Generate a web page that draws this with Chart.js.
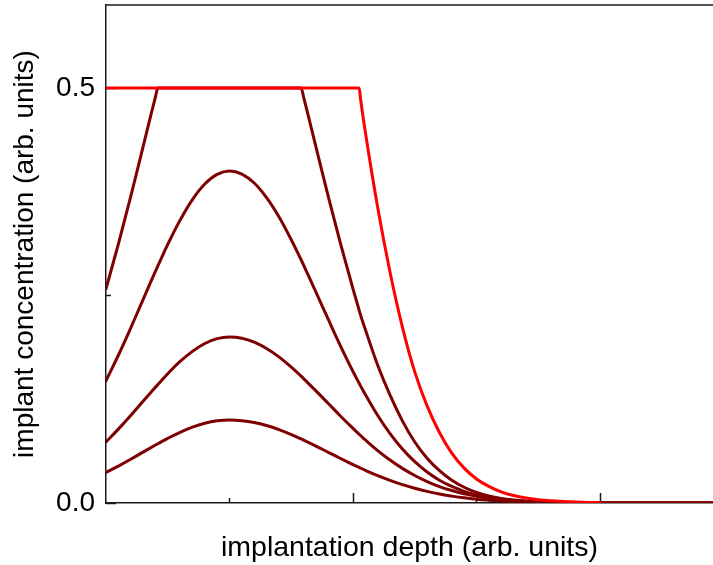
<!DOCTYPE html>
<html>
<head>
<meta charset="utf-8">
<script src="https://cdn.jsdelivr.net/npm/chart.js@4/dist/chart.umd.min.js"></script>
<style>
html,body{margin:0;padding:0;background:#fff;}
canvas{display:block;}
</style>
</head>
<body>
<canvas id="c" width="713" height="565"></canvas>
<script>
// implantation depth (arb. units)
const depth = [0,0.1,0.2,0.3,0.4,0.42,0.5,0.6,0.7,0.8,0.9,1.0,1.1,1.2,1.3,1.4,1.5,1.58,1.6,1.7,1.8,1.9,2.0,2.05,2.06,2.1,2.2,2.3,2.4,2.5,2.6,2.7,2.8,2.9,3.0,3.1,3.2,3.3,3.4,3.5,3.6,3.7,3.8,3.9,4.0,4.5,4.92];

// saturated (clipped) profile, highest dose
const profileSaturated = [0.5,0.5,0.5,0.5,0.5,0.5,0.5,0.5,0.5,0.5,0.5,0.5,0.5,0.5,0.5,0.5,0.5,0.5,0.5,0.5,0.5,0.5,0.5,0.5,0.488,0.447,0.356,0.278,0.212,0.158,0.117,0.085,0.060,0.042,0.029,0.020,0.0135,0.009,0.006,0.004,0.0026,0.0017,0.0011,0.0007,0.0004,null,null];
// partly clipped profile
const profileHigh = [0.258,0.312,0.369,0.429,0.489,0.5,0.5,0.5,0.5,0.5,0.5,0.5,0.5,0.5,0.5,0.5,0.5,0.5,0.489,0.429,0.369,0.312,0.258,0.232,0.227,0.209,0.166,0.130,0.099,0.0735,0.054,0.039,0.0275,0.019,0.0128,0.0085,0.0055,0.0035,0.0022,0.0013,0.0008,0.0005,0.0003,0.0002,0.0001,0,0];
const profileMid = [0.1472,0.1780,0.2108,0.2451,0.2791,0.2856,0.3115,0.3408,0.3656,0.3843,0.3960,0.4000,0.3963,0.3855,0.3679,0.3449,0.3172,0.2929,0.2867,0.2541,0.2211,0.1888,0.1584,0.1442,0.1414,0.1306,0.1054,0.0836,0.0651,0.0498,0.0374,0.0275,0.0199,0.0141,0.0098,0.0067,0.0045,0.0030,0.0019,0.0012,0.0008,0.0005,0.0003,0.0002,0.0001,0,0];
const profileLow = [0.0736,0.0890,0.1054,0.1226,0.1395,0.1428,0.1558,0.1705,0.1827,0.1922,0.1980,0.2000,0.1984,0.1937,0.1861,0.1760,0.1637,0.1528,0.1499,0.1351,0.1199,0.1046,0.0899,0.0828,0.0814,0.0760,0.0632,0.0517,0.0417,0.0331,0.0258,0.0198,0.0150,0.0111,0.0082,0.0059,0.0042,0.0029,0.0020,0.0013,0.0009,0.0006,0.0004,0.0002,0.0001,0,0];
const profileLowest = [0.0368,0.0445,0.0527,0.0613,0.0698,0.0714,0.0779,0.0852,0.0914,0.0961,0.0990,0.1000,0.0992,0.0970,0.0933,0.0884,0.0825,0.0772,0.0758,0.0686,0.0611,0.0536,0.0463,0.0428,0.0421,0.0394,0.0330,0.0273,0.0221,0.0177,0.0140,0.0108,0.0083,0.0062,0.0046,0.0034,0.0024,0.0017,0.0012,0.0008,0.0006,0.0004,0.0002,0.0002,0.0001,0,0];

const yTickValues = [0, 0.25, 0.5];
const yTickLabels = ['0.0', '', '0.5'];
const yMajorTicks = [0, 0.5];
const xTickValues = [1, 2, 3, 4];
const xMajorTicks = [2, 4];

const xTitle = 'implantation depth (arb. units)';
const yTitle = 'implant concentration (arb. units)';

const DARK = '#7f0000';
const RED = '#ff0000';
const AXIS = '#1a1a1a';
const FONT = "'Liberation Sans', Arial, Helvetica, sans-serif";

function pts(arr) {
  const out = [];
  arr.forEach((v, i) => { if (v !== null) out.push({x: depth[i], y: v}); });
  return out;
}

function ds(arr, color, clipped) {
  const d = {
    data: pts(arr),
    borderColor: color,
    backgroundColor: color,
    borderWidth: 3,
    pointRadius: 0,
    fill: false,
    borderJoinStyle: 'round',
    borderCapStyle: 'round'
  };
  if (clipped) d.cubicInterpolationMode = 'monotone';
  else d.tension = 0.4;
  return d;
}

const frameTicks = {
  id: 'frameTicks',
  beforeDatasetsDraw(chart) {
    const {ctx, chartArea} = chart;
    const xs = chart.scales.x, ys = chart.scales.y;
    ctx.save();
    ctx.strokeStyle = AXIS;
    ctx.lineWidth = 1.5;
    ctx.beginPath();
    ctx.moveTo(chartArea.left - 0.75, chartArea.top);
    ctx.lineTo(chartArea.right, chartArea.top);
    ctx.stroke();
    xTickValues.forEach(v => {
      const px = Math.round(xs.getPixelForValue(v)) + 0.5;
      const len = xMajorTicks.includes(v) ? 10 : 5;
      ctx.beginPath();
      ctx.moveTo(px, chartArea.bottom);
      ctx.lineTo(px, chartArea.bottom - len);
      ctx.stroke();
    });
    yTickValues.forEach(v => {
      const py = Math.round(ys.getPixelForValue(v)) + 0.5;
      const len = yMajorTicks.includes(v) ? 10 : 5;
      ctx.beginPath();
      ctx.moveTo(chartArea.left, py);
      ctx.lineTo(chartArea.left + len, py);
      ctx.stroke();
    });
    ctx.restore();
  }
};

new Chart(document.getElementById('c'), {
  type: 'line',
  data: {
    datasets: [
      ds(profileSaturated, RED, true),
      ds(profileHigh, DARK, true),
      ds(profileMid, DARK, false),
      ds(profileLow, DARK, false),
      ds(profileLowest, DARK, false)
    ]
  },
  options: {
    responsive: false,
    animation: false,
    layout: {padding: {top: 5, left: 0, right: 0, bottom: 0}},
    plugins: {legend: {display: false}, tooltip: {enabled: false}},
    scales: {
      x: {
        type: 'linear',
        min: 0,
        max: 4.915,
        grid: {display: false, drawTicks: false},
        border: {display: true, color: AXIS, width: 1.5},
        ticks: {display: false},
        title: {display: true, text: xTitle, color: '#000', font: {family: FONT, size: 28.5}, padding: {top: 0, bottom: 0}},
        afterFit(s) { s.height = 62; s.paddingLeft = 0; s.paddingRight = 0; }
      },
      y: {
        type: 'linear',
        min: 0,
        max: 0.6,
        grid: {display: false, drawTicks: false},
        border: {display: true, color: AXIS, width: 1.5},
        afterBuildTicks(s) { s.ticks = yTickValues.map(v => ({value: v})); },
        ticks: {
          color: '#000',
          font: {family: FONT, size: 28},
          padding: 11,
          callback(v) { const i = yTickValues.indexOf(v); return i >= 0 ? yTickLabels[i] : ''; }
        },
        title: {display: true, text: yTitle, color: '#000', font: {family: FONT, size: 28}, padding: {top: 8, bottom: 0}},
        afterFit(s) { s.width = 106; s.paddingTop = 0; s.paddingBottom = 0; }
      }
    }
  },
  plugins: [frameTicks]
});
</script>
</body>
</html>
